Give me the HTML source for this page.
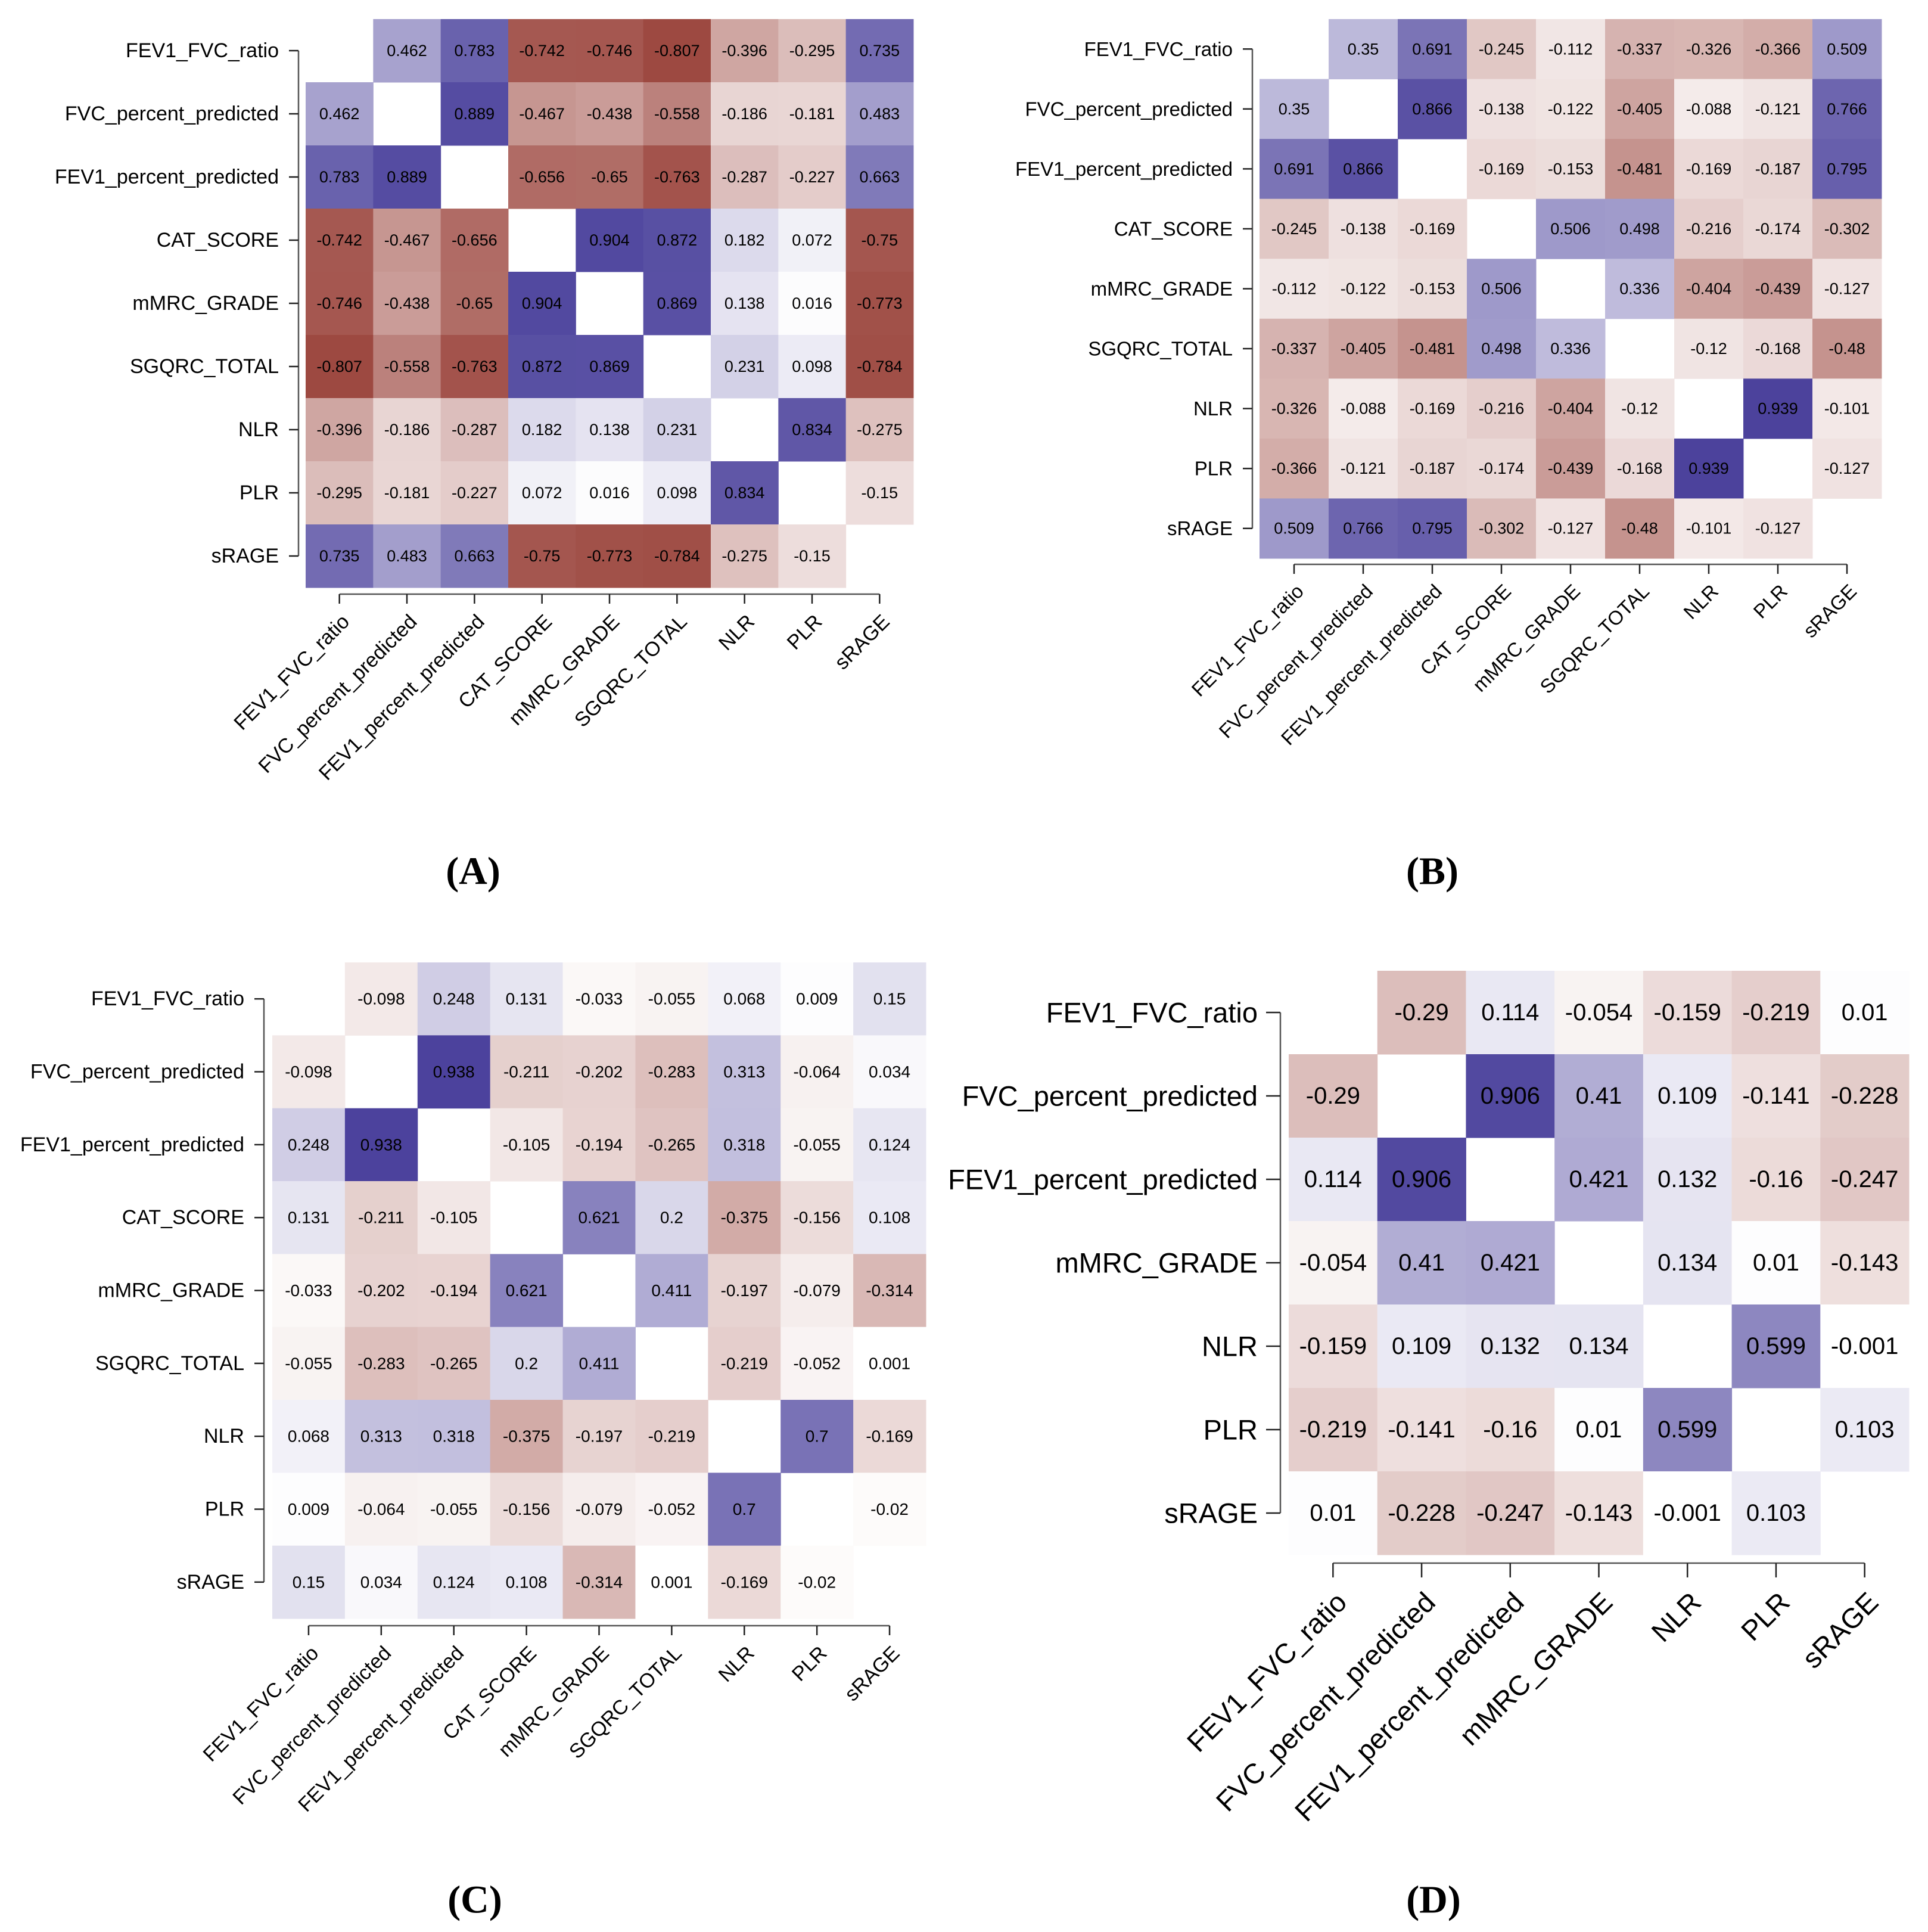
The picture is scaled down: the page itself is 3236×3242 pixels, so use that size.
<!DOCTYPE html>
<html>
<head>
<meta charset="utf-8">
<style>
html,body{margin:0;padding:0;background:#fff;}
svg{display:block;}
text{font-family:"Liberation Sans",Arial,sans-serif;fill:#000;}
.title{font-family:"Liberation Serif","Times New Roman",serif;font-weight:bold;}
</style>
</head>
<body>
<svg id="fig" width="3236" height="3242" viewBox="0 0 3236 3242" xmlns="http://www.w3.org/2000/svg"></svg>
<script>
const varsFull = ["FEV1_FVC_ratio","FVC_percent_predicted","FEV1_percent_predicted","CAT_SCORE","mMRC_GRADE","SGQRC_TOTAL","NLR","PLR","sRAGE"];
const varsD = ["FEV1_FVC_ratio","FVC_percent_predicted","FEV1_percent_predicted","mMRC_GRADE","NLR","PLR","sRAGE"];

const matA = [
 [null,.462,.783,-.742,-.746,-.807,-.396,-.295,.735],
 [.462,null,.889,-.467,-.438,-.558,-.186,-.181,.483],
 [.783,.889,null,-.656,-.65,-.763,-.287,-.227,.663],
 [-.742,-.467,-.656,null,.904,.872,.182,.072,-.75],
 [-.746,-.438,-.65,.904,null,.869,.138,.016,-.773],
 [-.807,-.558,-.763,.872,.869,null,.231,.098,-.784],
 [-.396,-.186,-.287,.182,.138,.231,null,.834,-.275],
 [-.295,-.181,-.227,.072,.016,.098,.834,null,-.15],
 [.735,.483,.663,-.75,-.773,-.784,-.275,-.15,null]
];
const matB = [
 [null,.35,.691,-.245,-.112,-.337,-.326,-.366,.509],
 [.35,null,.866,-.138,-.122,-.405,-.088,-.121,.766],
 [.691,.866,null,-.169,-.153,-.481,-.169,-.187,.795],
 [-.245,-.138,-.169,null,.506,.498,-.216,-.174,-.302],
 [-.112,-.122,-.153,.506,null,.336,-.404,-.439,-.127],
 [-.337,-.405,-.481,.498,.336,null,-.12,-.168,-.48],
 [-.326,-.088,-.169,-.216,-.404,-.12,null,.939,-.101],
 [-.366,-.121,-.187,-.174,-.439,-.168,.939,null,-.127],
 [.509,.766,.795,-.302,-.127,-.48,-.101,-.127,null]
];
const matC = [
 [null,-.098,.248,.131,-.033,-.055,.068,.009,.15],
 [-.098,null,.938,-.211,-.202,-.283,.313,-.064,.034],
 [.248,.938,null,-.105,-.194,-.265,.318,-.055,.124],
 [.131,-.211,-.105,null,.621,.2,-.375,-.156,.108],
 [-.033,-.202,-.194,.621,null,.411,-.197,-.079,-.314],
 [-.055,-.283,-.265,.2,.411,null,-.219,-.052,.001],
 [.068,.313,.318,-.375,-.197,-.219,null,.7,-.169],
 [.009,-.064,-.055,-.156,-.079,-.052,.7,null,-.02],
 [.15,.034,.124,.108,-.314,.001,-.169,-.02,null]
];
const matD = [
 [null,-.29,.114,-.054,-.159,-.219,.01],
 [-.29,null,.906,.41,.109,-.141,-.228],
 [.114,.906,null,.421,.132,-.16,-.247],
 [-.054,.41,.421,null,.134,.01,-.143],
 [-.159,.109,.132,.134,null,.599,-.001],
 [-.219,-.141,-.16,.01,.599,null,.103],
 [.01,-.228,-.247,-.143,-.001,.103,null]
];

const NS = "http://www.w3.org/2000/svg";
const svg = document.getElementById("fig");
function mk(tag, attrs, parent){
  const e = document.createElementNS(NS, tag);
  for (const k in attrs) e.setAttribute(k, attrs[k]);
  parent.appendChild(e);
  return e;
}
function color(v){
  const blue=[64,54,150], red=[134,30,20];
  const c = v>=0?blue:red, a=Math.min(1,Math.abs(v));
  const ch = c.map(x=>Math.round(255+(x-255)*a));
  return "rgb("+ch.join(",")+")";
}

function panel(id, vars, mat, g){
  const n = vars.length;
  const grp = mk("g", {}, svg);
  
  
  const cw = (g.x1-g.x0)/n, ch = (g.y1-g.y0)/n;
  const xs = i => g.x0 + i*cw;
  const ys = j => g.y0 + j*ch;
  for (let r=0;r<n;r++){
    for (let c=0;c<n;c++){
      const v = mat[r][c];
      if (v===null) continue;
      const rect = mk("rect",{x:xs(c),y:ys(r),width:cw+0.5,height:ch+0.5,fill:color(v)},grp);
      
      
      const t = mk("text",{x:xs(c)+cw/2,y:ys(r)+ch/2,"text-anchor":"middle","dominant-baseline":"central","font-size":g.vf},grp);
      t.textContent = String(v);
      
      
    }
  }
  const yl = mk("line",{x1:g.ax,x2:g.ax,y1:ys(0)+ch/2,y2:ys(n-1)+ch/2,stroke:"#555","stroke-width":2.5},grp);
  
  
  const xl = mk("line",{x1:xs(0)+cw/2,x2:xs(n-1)+cw/2,y1:g.ay,y2:g.ay,stroke:"#555","stroke-width":2.5},grp);
  
  
  for (let i=0;i<n;i++){
    const cy = ys(i)+ch/2;
    mk("line",{x1:g.ax-g.tk,x2:g.ax,y1:cy,y2:cy,stroke:"#222","stroke-width":2.5},grp);
    const yt = mk("text",{x:g.ax-g.tk-g.gap,y:cy,"text-anchor":"end","dominant-baseline":"central","font-size":g.lf},grp);
    yt.textContent = vars[i];
    
    
    const cx = xs(i)+cw/2;
    mk("line",{x1:cx,x2:cx,y1:g.ay,y2:g.ay+g.tk,stroke:"#222","stroke-width":2.5},grp);
    const bx = cx+0.55*g.lf, by = g.ay+g.tk+0.95*g.lf;
    const xt = mk("text",{x:bx,y:by,"text-anchor":"end","font-size":g.lf,transform:"rotate(-45 "+bx+" "+by+")"},grp);
    xt.textContent = vars[i];
    
    
  }
  const tt = mk("text",{x:g.tx,y:g.ty,"text-anchor":"middle","dominant-baseline":"central","font-size":66,"class":"title"},grp);
  tt.textContent = "("+id+")";
  
  
}

panel("A", varsFull, matA, {x0:513,x1:1533,y0:32,y1:986,ax:501,ay:997,tk:16,gap:17,vf:27,lf:34,tx:794,ty:1462});
panel("B", varsFull, matB, {x0:2114,x1:3158,y0:32,y1:937,ax:2102,ay:947,tk:16,gap:17,vf:27,lf:33,tx:2404,ty:1462});
panel("C", varsFull, matC, {x0:457,x1:1554,y0:1615,y1:2716,ax:443,ay:2728,tk:16,gap:17,vf:28,lf:34,tx:797,ty:3188});
panel("D", varsD, matD, {x0:2163,x1:3204,y0:1629,y1:2609,ax:2149,ay:2623,tk:24,gap:14,vf:40,lf:47,tx:2406,ty:3188});
</script>
</body>
</html>
